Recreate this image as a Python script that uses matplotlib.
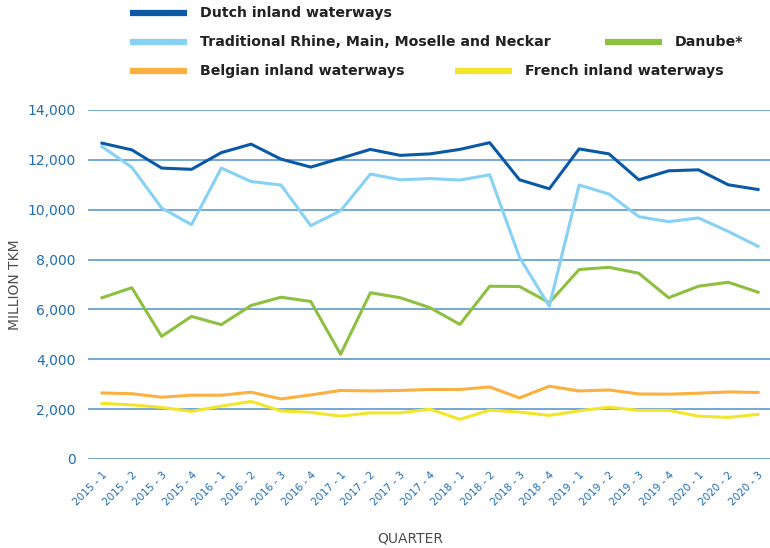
import matplotlib.pyplot as plt
from matplotlib.lines import Line2D

quarters = ["2015 - 1", "2015 - 2", "2015 - 3", "2015 - 4",
            "2016 - 1", "2016 - 2", "2016 - 3", "2016 - 4",
            "2017 - 1", "2017 - 2", "2017 - 3", "2017 - 4",
            "2018 - 1", "2018 - 2", "2018 - 3", "2018 - 4",
            "2019 - 1", "2019 - 2", "2019 - 3", "2019 - 4",
            "2020 - 1", "2020 - 2", "2020 - 3"]

dutch = [12670, 12400, 11670, 11620, 12290, 12630, 12030, 11710,
         12060, 12420, 12180, 12240, 12420, 12690, 11200, 10840,
         12440, 12240, 11200, 11560, 11600, 11000, 10810]
rhine = [12530, 11700, 10070, 9400, 11670, 11130, 10990, 9360,
         9960, 11430, 11200, 11250, 11190, 11400, 8090, 6130,
         10990, 10630, 9720, 9520, 9670, 9130, 8530]
danube = [6470, 6870, 4920, 5720, 5390, 6160, 6490, 6320,
          4200, 6670, 6470, 6070, 5400, 6930, 6920, 6270,
          7600, 7690, 7450, 6470, 6930, 7090, 6690]
belgian = [2650, 2620, 2480, 2560, 2560, 2680, 2410, 2570,
           2750, 2730, 2750, 2790, 2790, 2890, 2450, 2920,
           2730, 2770, 2610, 2600, 2640, 2690, 2670]
french = [2230, 2170, 2070, 1910, 2120, 2310, 1930, 1870,
          1720, 1850, 1850, 2000, 1590, 1960, 1880, 1750,
          1930, 2080, 1950, 1950, 1720, 1670, 1790]

yticks = [0, 2000, 4000, 6000, 8000, 10000, 12000, 14000]

c_dutch = "#0a59a6"
c_rhine = "#86d1f4"
c_danube = "#8dc03f"
c_belgian = "#fbb040"
c_french = "#f3e62a"
tick_blue = "#1f6db3"
grey = "#4d4d4d"

fig = plt.figure(figsize=(7.7, 5.48), dpi=100)
ax = fig.add_axes([88 / 770, 1 - 459 / 548, 682 / 770, (459 - 110) / 548])

x = range(len(quarters))
lw = 2.2
ax.plot(x, french, color=c_french, lw=lw, zorder=3)
ax.plot(x, belgian, color=c_belgian, lw=lw, zorder=3)
ax.plot(x, danube, color=c_danube, lw=lw, zorder=3)
ax.plot(x, rhine, color=c_rhine, lw=lw, zorder=4)
ax.plot(x, dutch, color=c_dutch, lw=lw, zorder=5)

ax.set_ylim(0, 14000)
ax.set_xlim(-0.47, 22.4)
ax.set_yticks(yticks)
ax.set_yticklabels([f"{v:,}" for v in yticks], color=tick_blue, fontsize=10)
ax.set_xticks(list(x))
ax.set_xticklabels(quarters, rotation=45, ha="right", rotation_mode="anchor",
                   color=tick_blue, fontsize=7.5)
ax.tick_params(axis="both", length=0)
ax.tick_params(axis="y", pad=9)
ax.tick_params(axis="x", pad=8)
for s in ax.spines.values():
    s.set_visible(False)
ax.grid(axis="y", color="#4f8fcb", lw=1.1, zorder=0)
ax.set_axisbelow(True)

fig.text(15 / 770, 1 - 285 / 548, "MILLION TKM", rotation=90, color=grey,
         fontsize=10, ha="center", va="center")
fig.text(410 / 770, 1 - 539 / 548, "QUARTER", color=grey, fontsize=10,
         ha="center", va="center")

# legend drawn by hand to match the 3-row layout
legend_items = [
    (130, 13, c_dutch, "Dutch inland waterways"),
    (130, 42, c_rhine, "Traditional Rhine, Main, Moselle and Neckar"),
    (605, 42, c_danube, "Danube*"),
    (130, 71, c_belgian, "Belgian inland waterways"),
    (455, 71, c_french, "French inland waterways"),
]
for lx, ly, col, label in legend_items:
    yy = 1 - ly / 548
    fig.add_artist(Line2D([lx / 770, (lx + 57) / 770], [yy, yy], color=col,
                          lw=4.5, solid_capstyle="butt"))
    fig.text((lx + 70) / 770, yy, label, fontsize=10.2, fontweight="bold",
             color="#222222", va="center", ha="left")

fig.savefig("out.png", dpi=100)
